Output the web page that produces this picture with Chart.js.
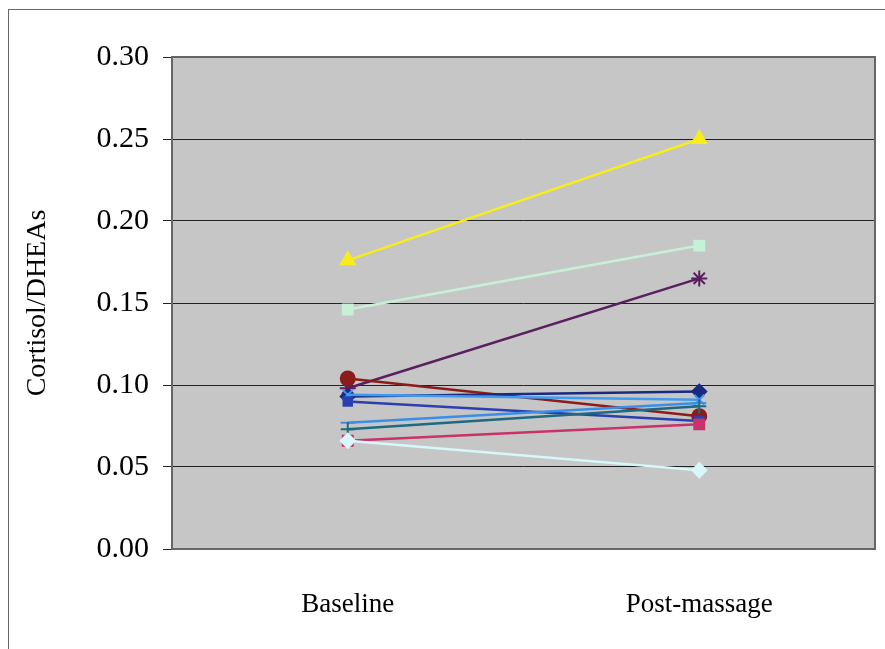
<!DOCTYPE html>
<html>
<head>
<meta charset="utf-8">
<script src="https://cdn.jsdelivr.net/npm/chart.js@4"></script>
<style>
  html, body { margin: 0; padding: 0; background: #fff; }
  #wrap { position: relative; width: 885px; height: 649px; }
</style>
</head>
<body>
<div id="wrap"><canvas id="myChart" width="885" height="649"></canvas></div>
<script>
var labels = ['Baseline', 'Post-massage'];
var yTicks = [0, 0.05, 0.10, 0.15, 0.20, 0.25, 0.30];

var yellowTri = [0.176, 0.250];
var mintSquare = [0.146, 0.185];
var purpleStar = [0.098, 0.165];
var brownCircle = [0.104, 0.081];
var navyDiamond = [0.093, 0.096];
var lightBlue1 = [0.094, 0.091];
var blueLine = [0.090, 0.078];
var lightBlue2 = [0.077, 0.089];
var tealCross = [0.073, 0.087];
var magentaSquare = [0.066, 0.076];
var cyanDiamond = [0.066, 0.048];

function ds(data, color, style, radius) {
  return {
    data: data,
    borderColor: color,
    backgroundColor: color,
    pointStyle: style,
    pointRadius: radius || 7,
    pointBorderWidth: 2,
    borderWidth: 2.5,
    tension: 0
  };
}

var plotBg = {
  id: 'plotBg',
  beforeDraw: function (chart) {
    var c = chart.ctx, a = chart.chartArea;
    c.save();
    c.strokeStyle = '#666';
    c.lineWidth = 1;
    c.strokeRect(8.5, 9.5, 890, 660);
    c.fillStyle = '#c6c6c6';
    c.fillRect(a.left, a.top, a.right - a.left, a.bottom - a.top);
    c.restore();
  },
  afterDraw: function (chart) {
    var c = chart.ctx, a = chart.chartArea;
    c.save();
    c.strokeStyle = '#666';
    c.lineWidth = 2;
    c.strokeRect(a.left, a.top, a.right - a.left, a.bottom - a.top);
    c.restore();
  }
};

var ctx = document.getElementById('myChart').getContext('2d');
var myChart = new Chart(ctx, {
  type: 'line',
  data: {
    labels: labels,
    datasets: [
      ds(cyanDiamond, '#d6f8fa', 'rectRot', 7),
      ds(magentaSquare, '#c8336a', 'rect', 7),
      ds(tealCross, '#1e6a80', 'cross', 7),
      ds(lightBlue2, '#3a8ee8', 'line', 7),
      ds(blueLine, '#2c3fb0', 'rect', 6),
      ds(lightBlue1, '#3f9bf0', 'crossRot', 7),
      ds(navyDiamond, '#1a2a80', 'rectRot', 7),
      ds(brownCircle, '#8a1c1c', 'circle', 7),
      ds(purpleStar, '#5a1f5e', 'star', 8),
      ds(mintSquare, '#c6f0d8', 'rect', 7),
      ds(yellowTri, '#f7ec1c', 'triangle', 8)
    ]
  },
  options: {
    responsive: false,
    animation: false,
    layout: { padding: { left: 0, top: 57, right: 9, bottom: 0 } },
    plugins: { legend: { display: false }, tooltip: { enabled: false } },
    scales: {
      x: {
        offset: true,
        grid: { display: false },
        border: { display: false },
        ticks: { color: '#000', padding: 32, font: { family: 'Liberation Serif', size: 27 } },
        afterFit: function (s) { s.height = 100; }
      },
      y: {
        min: 0,
        max: 0.3,
        afterBuildTicks: function (s) { s.ticks = yTicks.map(function (v) { return { value: v }; }); },
        grid: { color: '#222', lineWidth: 1, tickLength: 9 },
        border: { display: false },
        ticks: {
          color: '#000',
          padding: 14,
          font: { family: 'Liberation Serif', size: 30 },
          callback: function (v) { return v.toFixed(2); }
        },
        title: {
          display: true,
          text: 'Cortisol/DHEAs',
          color: '#000',
          padding: { top: 21, bottom: 0 },
          font: { family: 'Liberation Serif', size: 28 }
        },
        afterFit: function (s) { s.width = 172; }
      }
    }
  },
  plugins: [plotBg]
});
</script>
</body>
</html>
